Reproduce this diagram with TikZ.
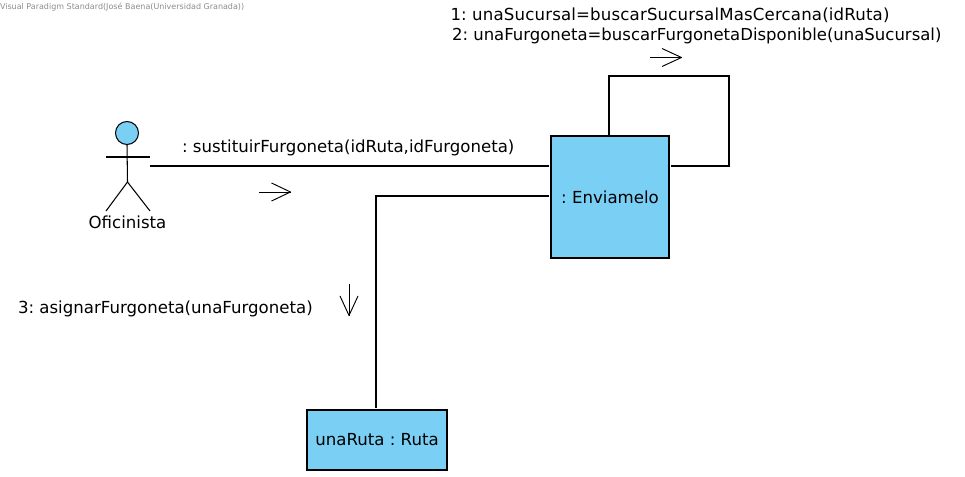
\documentclass[tikz,border=0pt]{standalone}
\usepackage{fontspec}
\setmainfont{DejaVu Sans}
\usetikzlibrary{arrows.meta}
\definecolor{umlblue}{RGB}{122,207,245}
\tikzset{
  obj/.style={draw=black,line width=1.05pt,fill=umlblue,inner sep=0pt,outer sep=0pt,anchor=north west,font=\frenchspacing\fontsize{16.6}{19}\selectfont},
  lbl/.style={inner sep=0pt,outer sep=0pt,text=black,font=\frenchspacing\fontsize{16.6}{19}\selectfont},
  conn/.style={draw=black,line width=1.05pt},
  dir/.style={draw=black,line width=0.95pt,line join=round}
}
\begin{document}
\begin{tikzpicture}[x=1pt,y=-1pt]
\useasboundingbox (0,0) rectangle (965,476);
\node[inner sep=0pt,outer sep=0pt,anchor=west,text=black!45,font=\fontsize{8}{9}\selectfont] (wm) at (0,7) {Visual Paradigm Standard(José Baena(Universidad Granada))};
% actor
\node[draw=black,line width=1.05pt,fill=umlblue,circle,minimum size=23pt,inner sep=0pt,outer sep=0pt] (head) at (127,133) {};
\coordinate (armL) at (106,157);
\coordinate (armR) at (150,157);
\coordinate (hip) at (127.5,182);
\coordinate (legL) at (106,211);
\coordinate (legR) at (150,211);
\draw[conn] (armL) -- (armR);
\draw[conn] (head.south) -- (hip);
\draw[conn] (legL) -- (hip) -- (legR);
\node[lbl] (actor) at (127.5,222) {Oficinista};
% objects
\node[obj,minimum width=118pt,minimum height=122pt] (env) at (551,136) {: Enviamelo};
\node[obj,minimum width=140pt,minimum height=60pt] (ruta) at (307,410) {unaRuta : Ruta};
% connectors
\coordinate (actorEnd) at (150,166);
\coordinate (envIn) at (549,166);
\draw[conn] (actorEnd) -- (envIn);
\coordinate (selfA) at (609,135);
\coordinate (selfB) at (671,166);
\draw[conn] (selfA) -- (609,76) -- (729,76) -- (729,166) -- (selfB);
\coordinate (envOut) at (549,196);
\coordinate (rutaIn) at (376,408);
\draw[conn] (envOut) -- (376,196) -- (rutaIn);
% labels
\node[lbl,anchor=west] (m0) at (182,148) {: sustituirFurgoneta(idRuta,idFurgoneta)};
\node[lbl,anchor=west] (m1) at (450.5,15) {\addfontfeature{LetterSpace=0.95}1: unaSucursal=buscarSucursalMasCercana(idRuta)};
\node[lbl,anchor=west,font=\frenchspacing\fontsize{16.5}{19}\selectfont] (m2) at (452,36) {2: unaFurgoneta=buscarFurgonetaDisponible(unaSucursal)};
\node[lbl,anchor=west] (m3) at (18,309) {3: asignarFurgoneta(unaFurgoneta)};
% direction arrows
\coordinate (d0a) at (259,192); \coordinate (d0b) at (290.5,192);
\coordinate (d1a) at (650,57.5); \coordinate (d1b) at (681.5,57.5);
\coordinate (d2a) at (349,284); \coordinate (d2b) at (349,315.5);
\draw[dir] (d0a) -- (d0b);
\draw[dir] (271.5,183) -- (d0b) -- (271.5,201);
\draw[dir] (d1a) -- (d1b);
\draw[dir] (662,48.5) -- (d1b) -- (662,66.5);
\draw[dir] (d2a) -- (d2b);
\draw[dir] (340,296) -- (d2b) -- (358,296);
\end{tikzpicture}
\end{document}
